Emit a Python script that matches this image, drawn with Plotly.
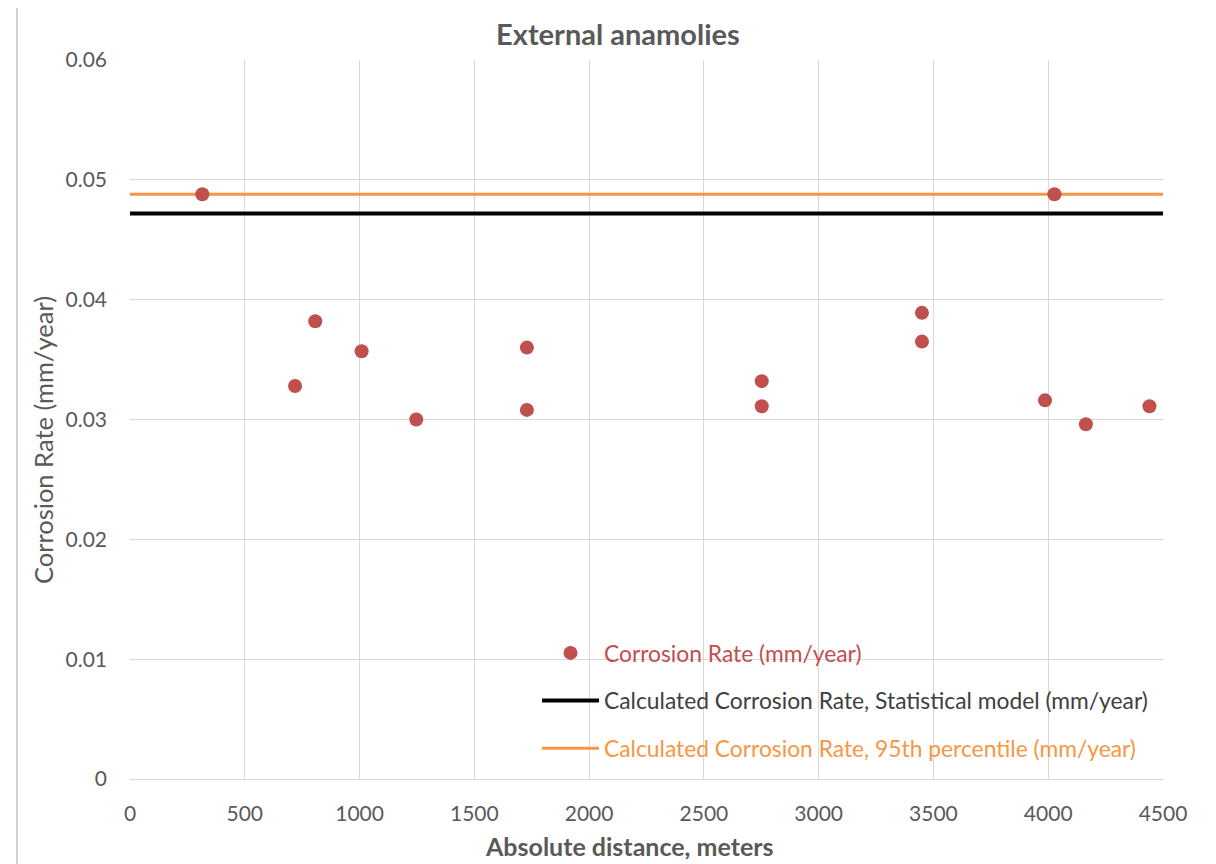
import plotly.graph_objects as go

# Data
distance_m = [315, 719, 807, 1009, 1247, 1729, 1729, 2752, 2752, 3450, 3450, 3986, 4027, 4164, 4441]
corrosion_rate = [0.0488, 0.0328, 0.0382, 0.0357, 0.0300, 0.0360, 0.0308, 0.0332, 0.0311,
                  0.0389, 0.0365, 0.0316, 0.0488, 0.0296, 0.0311]
line_x = [0, 4500]
statistical_model = [0.0472, 0.0472]
percentile_95 = [0.0488, 0.0488]

x_ticks = [0, 500, 1000, 1500, 2000, 2500, 3000, 3500, 4000, 4500]
y_ticks = [0, 0.01, 0.02, 0.03, 0.04, 0.05, 0.06]
y_tick_labels = ["0", "0.01", "0.02", "0.03", "0.04", "0.05", "0.06"]

RED = "#c0504d"
ORANGE = "#f79646"
GRAY = "#595959"
FONT = "Lato, 'Open Sans', sans-serif"

fig = go.Figure()
fig.add_trace(go.Scatter(
    x=line_x, y=percentile_95, mode="lines",
    line=dict(color=ORANGE, width=3),
    name="<span style='color:#f79646'>Calculated Corrosion Rate, 95th percentile (mm/year)</span>",
    legendgroup="c", legendrank=3,
))
fig.add_trace(go.Scatter(
    x=line_x, y=statistical_model, mode="lines",
    line=dict(color="#000000", width=4),
    name="<span style='color:#404040'>Calculated Corrosion Rate, Statistical model (mm/year)</span>",
    legendgroup="b", legendrank=2,
))
fig.add_trace(go.Scatter(
    x=distance_m, y=corrosion_rate, mode="markers",
    marker=dict(color=RED, size=14, line=dict(width=0)),
    name="<span style='color:#c0504d'>Corrosion Rate (mm/year)</span>",
    legendgroup="a", legendrank=1,
))

fig.update_layout(
    width=1216, height=864,
    paper_bgcolor="white", plot_bgcolor="white",
    margin=dict(l=122, r=61, t=52, b=93),
    font=dict(family=FONT, color=GRAY, size=20),
    title=dict(text="<b>External anamolies</b>", x=0.5016, xanchor="center", y=0.969, yanchor="middle",
               font=dict(size=29, color=GRAY, family=FONT)),
    showlegend=True,
    legend=dict(x=0.394, y=0.205, xanchor="left", yanchor="top",
                bgcolor="rgba(0,0,0,0)", font=dict(size=22.8, family=FONT),
                tracegroupgap=15, itemwidth=57),
    shapes=[
        dict(type="line", xref="paper", yref="paper", x0=-0.1094, x1=-0.1094, y0=-0.2, y1=1.2,
             line=dict(color="#d0d0d0", width=2), layer="below"),
        dict(type="rect", xref="paper", yref="paper", x0=1.0455, x1=1.2, y0=-0.2, y1=1.2,
             fillcolor="#e8e8e8", line=dict(color="#d0d0d0", width=2), layer="below"),
    ],
    annotations=[
        dict(text="<b>Absolute distance, meters</b>", xref="paper", yref="paper",
             x=0.484, y=-0.0932, xanchor="center", yanchor="middle", showarrow=False,
             font=dict(size=25, color=GRAY, family=FONT)),
        dict(text="Corrosion Rate (mm/year)", xref="paper", yref="paper",
             x=-0.0842, y=0.4715, xanchor="center", yanchor="middle", showarrow=False,
             textangle=-90, font=dict(size=25.5, color=GRAY, family=FONT)),
    ],
)
fig.update_xaxes(
    range=[0, 4500], tickvals=x_ticks, showgrid=True, gridcolor="#d9d9d9", gridwidth=1,
    zeroline=False, showline=True, linecolor="#d9d9d9", ticks="",
    tickfont=dict(size=21, color=GRAY), ticklabelstandoff=16,
)
fig.update_yaxes(
    range=[0, 0.06], tickvals=y_ticks, ticktext=y_tick_labels, showgrid=True,
    gridcolor="#d9d9d9", gridwidth=1, zeroline=False, showline=False, ticks="",
    tickfont=dict(size=21, color=GRAY), ticklabelstandoff=22,
)
fig.write_html("out.html")
